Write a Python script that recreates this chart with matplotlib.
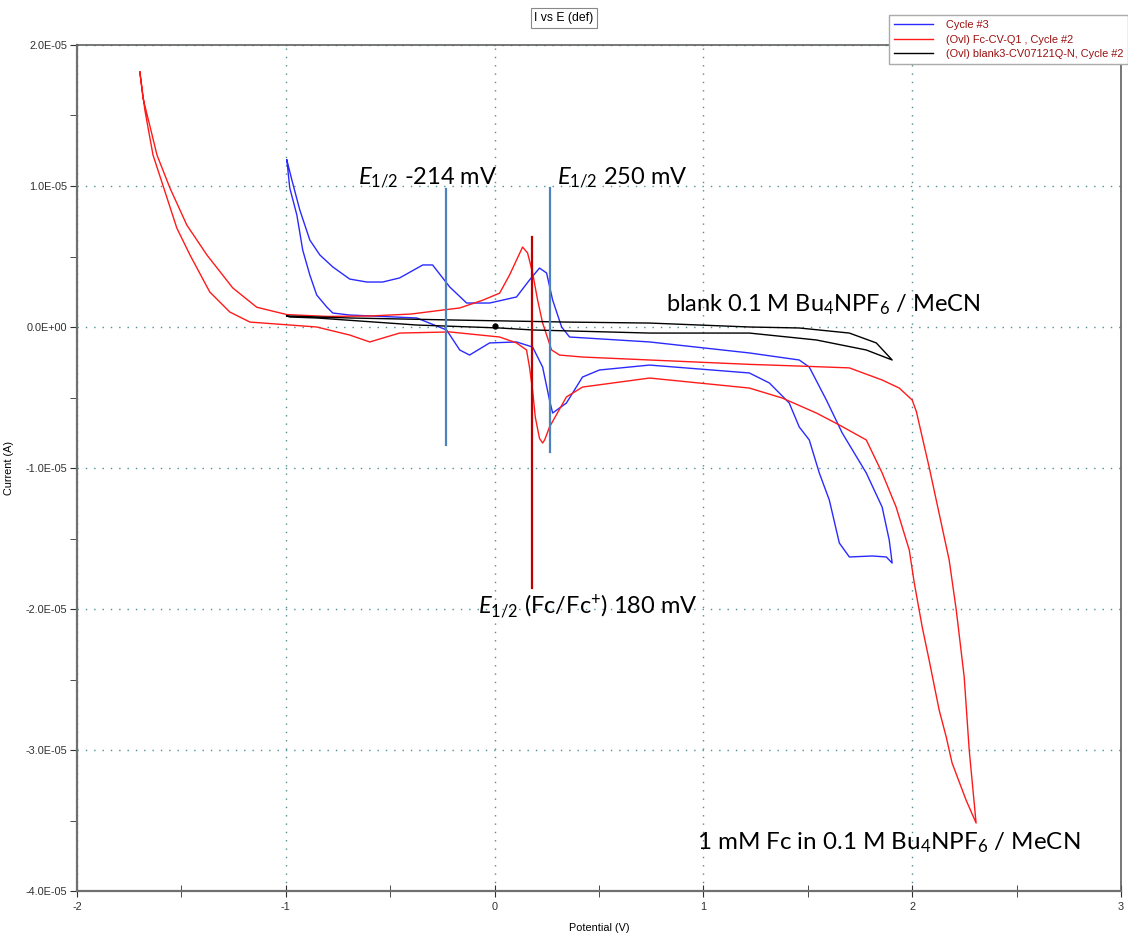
import matplotlib
matplotlib.use("Agg")
import matplotlib.pyplot as plt
from matplotlib.lines import Line2D
from matplotlib.ticker import FuncFormatter, MultipleLocator
import numpy as np

# ---------------- data (potential in V, current in A) ----------------
fc_V = [-1.699, -1.684, -1.650, -1.617, -1.555, -1.474, -1.378, -1.254, -1.139, -0.995, -0.80, -0.60,
        -0.40, -0.25, -0.167, -0.057, 0.024, 0.072, 0.105, 0.134, 0.158, 0.182, 0.206, 0.230,
        0.273, 0.311, 0.421, 0.742, 1.220, 1.459, 1.699, 1.856, 1.938, 2.000, 2.020, 2.081,
        2.177, 2.211, 2.249, 2.273, 2.306,
        2.258, 2.191, 2.163, 2.129, 2.081, 2.048, 2.010, 1.986, 1.923, 1.856, 1.780, 1.651,
        1.541, 1.378, 1.220, 0.742, 0.421, 0.344, 0.263, 0.240, 0.230, 0.215, 0.195, 0.182, 0.167, 0.153,
        0.105, 0.024, -0.215, -0.455, -0.598, -0.694, -0.852, -1.172, -1.268, -1.364, -1.459,
        -1.522, -1.589, -1.636, -1.675, -1.699]
fc_I = [1.809, 1.624, 1.420, 1.220, 0.986, 0.723, 0.511, 0.277, 0.140, 0.088, 0.075, 0.078,
        0.092, 0.120, 0.135, 0.190, 0.240, 0.370, 0.475, 0.567, 0.525, 0.383, 0.191, 0.028,
        -0.163, -0.199, -0.213, -0.234, -0.265, -0.277, -0.290, -0.376, -0.433, -0.518, -0.600, -0.993,
        -1.652, -2.007, -2.482, -3.000, -3.518,
        -3.355, -3.092, -2.908, -2.716, -2.362, -2.128, -1.816, -1.582, -1.277, -1.035, -0.801, -0.695,
        -0.610, -0.504, -0.433, -0.362, -0.426, -0.496, -0.709, -0.800, -0.823, -0.790, -0.640, -0.450, -0.284, -0.163,
        -0.113, -0.071, -0.035, -0.043, -0.106, -0.057, 0.000, 0.035, 0.106, 0.248, 0.511,
        0.702, 1.007, 1.220, 1.539, 1.809]
fc_I = [v * 1e-5 for v in fc_I]

cyc_V = [-0.995, -0.971, -0.933, -0.885, -0.837, -0.775, -0.694, -0.612, -0.536, -0.455, -0.344,
         -0.297, -0.215, -0.134, -0.024, 0.105, 0.167, 0.215, 0.249, 0.278, 0.321, 0.359, 0.742,
         1.220, 1.459, 1.507, 1.589, 1.665, 1.780, 1.856, 1.890, 1.904,
         1.876, 1.809, 1.699, 1.651, 1.603, 1.555, 1.507, 1.459, 1.411, 1.316, 1.220, 0.742,
         0.502, 0.421, 0.344, 0.278, 0.263, 0.230, 0.182, 0.105, -0.024, -0.120, -0.167, -0.230,
         -0.373, -0.694, -0.775, -0.804, -0.852, -0.885, -0.919, -0.947, -0.981, -0.995]
cyc_I = [1.184, 1.043, 0.830, 0.617, 0.511, 0.426, 0.340, 0.319, 0.319, 0.348, 0.440,
         0.440, 0.284, 0.170, 0.170, 0.213, 0.333, 0.418, 0.383, 0.191, 0.000, -0.071, -0.106,
         -0.184, -0.234, -0.284, -0.518, -0.752, -1.035, -1.277, -1.511, -1.674,
         -1.631, -1.624, -1.631, -1.532, -1.227, -1.035, -0.801, -0.709, -0.539, -0.397, -0.326, -0.270,
         -0.305, -0.355, -0.539, -0.610, -0.518, -0.284, -0.142, -0.106, -0.113, -0.199, -0.163, -0.021,
         0.064, 0.085, 0.099, 0.142, 0.227, 0.369, 0.546, 0.794, 0.986, 1.184]
cyc_I = [v * 1e-5 for v in cyc_I]

blank_V = [-0.995, -0.694, -0.215, 0.344, 0.742, 1.220, 1.459, 1.699, 1.828, 1.904,
           1.780, 1.541, 1.220, 0.742, 0.182, 0.024, -0.373, -0.852, -0.981, -0.995]
blank_I = [0.078, 0.064, 0.050, 0.035, 0.028, 0.000, -0.007, -0.043, -0.113, -0.234,
           -0.163, -0.092, -0.043, -0.043, -0.021, -0.007, 0.014, 0.064, 0.071, 0.078]
blank_I = [v * 1e-5 for v in blank_I]
blank_marker_V = [0.0]
blank_marker_I = [0.01e-5]

# E1/2 marker lines: x, ymin, ymax
e12_blue_x = [-0.235, 0.263]
e12_blue_ymin = [-0.837e-5, -0.887e-5]
e12_blue_ymax = [0.979e-5, 0.986e-5]
e12_red_x = [0.177]
e12_red_ymin = [-1.851e-5]
e12_red_ymax = [0.638e-5]

legend_labels = ["Cycle #3", "(Ovl) Fc-CV-Q1 , Cycle #2", "(Ovl) blank3-CV07121Q-N, Cycle #2"]
xticks = [-2, -1, 0, 1, 2, 3]
yticks = [2e-5, 1e-5, 0, -1e-5, -2e-5, -3e-5, -4e-5]

# ---------------- figure ----------------
plt.rcParams['mathtext.fontset'] = 'custom'
plt.rcParams['mathtext.rm'] = 'Lato'
plt.rcParams['mathtext.it'] = 'Lato:italic'

W, H = 1128, 935
fig = plt.figure(figsize=(W / 100, H / 100), dpi=100)
ax = fig.add_axes([77 / W, (H - 891) / H, (1121 - 77) / W, (891 - 45) / H])

ax.plot(cyc_V, cyc_I, color='#2a2aff', lw=1.0)
ax.plot(fc_V, fc_I, color='#ff1a1a', lw=1.0)
ax.plot(blank_V, blank_I, color='black', lw=1.0)
ax.plot(blank_marker_V, blank_marker_I, 'o', color='black', ms=3.5)

for x, y0, y1 in zip(e12_blue_x, e12_blue_ymin, e12_blue_ymax):
    ax.plot([x, x], [y0, y1], color='#4f81bd', lw=1.6)
for x, y0, y1 in zip(e12_red_x, e12_red_ymin, e12_red_ymax):
    ax.plot([x, x], [y0, y1], color='#c00000', lw=1.6)

ax.set_xlim(-2, 3)
ax.set_ylim(-4e-5, 2e-5)
ax.set_xticks(xticks)
ax.set_yticks(yticks)
ax.xaxis.set_minor_locator(MultipleLocator(0.5))
ax.yaxis.set_minor_locator(MultipleLocator(0.5e-5))


def yfmt(v, pos):
    s = "%.1E" % v
    if s.startswith("-0.0"):
        s = s[1:]
    return s


ax.yaxis.set_major_formatter(FuncFormatter(yfmt))
ax.xaxis.set_major_formatter(FuncFormatter(lambda v, p: "%d" % round(v)))

ax.grid(True, which='major', linestyle=(0, (1, 5)), color='#4a9090', lw=1.0)
for sp in ['left', 'bottom']:
    ax.spines[sp].set_color('#707070')
    ax.spines[sp].set_linewidth(1.6)
for sp in ['top', 'right']:
    ax.spines[sp].set_color('#606060')
    ax.spines[sp].set_linewidth(1.2)

ax.tick_params(axis='both', which='both', labelsize=7.8, colors='#303030', direction='out', length=5)
ax.tick_params(axis='x', which='both', direction='inout', length=8, pad=4)
ax.tick_params(axis='y', which='both', direction='out', length=5, pad=2)
for lab in ax.get_xticklabels() + ax.get_yticklabels():
    lab.set_fontfamily('Liberation Sans')

ax.set_xlabel("Potential (V)", fontsize=7.8, family='Liberation Sans', labelpad=8)
ax.set_ylabel("Current (A)", fontsize=7.8, family='Liberation Sans', labelpad=8)

# annotations
tk = dict(fontsize=17, family='Lato', color='black', va='center', ha='left')
ax.text(-0.656, 1.057e-5, r"$E_{1/2}$ -214 mV", **tk)
ax.text(0.297, 1.057e-5, r"$E_{1/2}$ 250 mV", **tk)
ax.text(0.823, 0.156e-5, r"blank 0.1 M Bu$_4$NPF$_6$ / MeCN", **tk)
ax.text(-0.081, -1.979e-5, r"$E_{1/2}$ (Fc/Fc$^{+}$) 180 mV", **tk)
ax.text(0.967, -3.66e-5, r"1 mM Fc in 0.1 M Bu$_4$NPF$_6$ / MeCN", fontsize=17.4,
        family='Lato', color='black', va='center', ha='left')

# header box
fig.text(564 / W, 1 - 18 / H, "I vs E (def)", fontsize=8.8, family='Liberation Sans',
         ha='center', va='center',
         bbox=dict(boxstyle='square,pad=0.3', fc='white', ec='#888888', lw=0.8))

# legend
handles = [Line2D([], [], color='#2a2aff', lw=1.0),
           Line2D([], [], color='#ff1a1a', lw=1.0),
           Line2D([], [], color='black', lw=1.0)]
leg = fig.legend(handles, legend_labels, loc='upper left', bbox_to_anchor=(889 / W, 1 - 15 / H),
                 fontsize=7.9, frameon=True, fancybox=False, shadow=False, framealpha=1,
                 edgecolor='#aaaaaa', labelcolor='#9b1010', handlelength=3.6, handletextpad=1.1,
                 borderpad=0.45, labelspacing=0.42, borderaxespad=0)
for t in leg.get_texts():
    t.set_fontfamily('Liberation Sans')

fig.savefig("out.png", dpi=100)
